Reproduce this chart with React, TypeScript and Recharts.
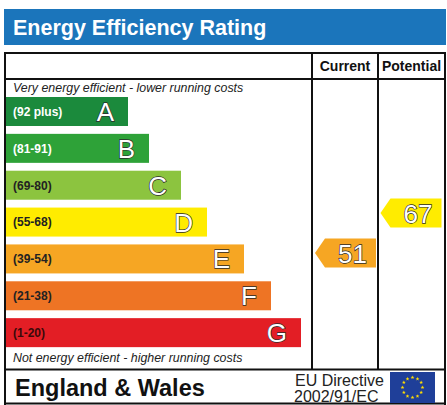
import React from 'react';
import { ComposedChart, Bar, Scatter, XAxis, YAxis, Cell } from 'recharts';

// ---- data ----
const bands = ['A', 'B', 'C', 'D', 'E', 'F', 'G'];
const bandRanges = ['(92 plus)', '(81-91)', '(69-80)', '(55-68)', '(39-54)', '(21-38)', '(1-20)'];
const bandMinimums = [92, 81, 69, 55, 39, 21, 1];
const bandBarLengths = [122, 143, 175, 201, 238, 265, 295];
const ratingColumns = ['Current', 'Potential'];
const ratingValues = [51, 67];

// ---- styles / layout ----
const W = 447;
const H = 405;
const FONT = '"Liberation Sans", Arial, sans-serif';
const BAND_COLORS: Record<string, string> = {
  A: '#1b8a3c',
  B: '#2ea238',
  C: '#8cc43f',
  D: '#ffec00',
  E: '#f6a623',
  F: '#ee7424',
  G: '#e31e25',
};
const RANGE_TEXT: Record<string, string> = {
  A: '#ffffff', B: '#ffffff', C: '#222', D: '#222', E: '#222', F: '#222', G: '#3a0a0a',
};
const COLUMN_X: Record<string, number> = { Current: 339.5, Potential: 405 };
const SCALE_MAX = 440;
const RATING_DOMAIN: [number, number] = [11.8, 115];

const bandOf = (rating: number) => {
  const i = bandMinimums.findIndex((m) => rating >= m);
  return bands[i < 0 ? bands.length - 1 : i];
};

const bandData = bands.map((b, i) => ({ band: b, range: bandRanges[i], length: bandBarLengths[i] }));
const ratingData = ratingColumns.map((c, i) => ({
  column: c,
  rating: ratingValues[i],
  band: bandOf(ratingValues[i]),
  col: COLUMN_X[c],
}));

const BandBar = (props: any) => {
  const { x, y, width, height, payload } = props;
  const cy = y + height / 2;
  return (
    <g>
      <rect x={x} y={y} width={width} height={height} fill={BAND_COLORS[payload.band]} />
      <text x={x + 7} y={cy + 4.3} fontFamily={FONT} fontSize={12} fontWeight="bold" fill={RANGE_TEXT[payload.band]}>
        {payload.range}
      </text>
      <text
        x={x + width - 14}
        y={cy + 9.5}
        textAnchor="end"
        fontFamily={FONT}
        fontSize={26}
        fill="#ffffff"
        stroke="#2a2a2a"
        strokeWidth={1.3}
        paintOrder="stroke"
      >
        {payload.band}
      </text>
    </g>
  );
};

const RatingArrow = (props: any) => {
  const { cx, cy, payload } = props;
  if (cx == null || cy == null) return null;
  const w = 61;
  const h = 29;
  const tip = 10;
  const x0 = cx - w / 2;
  const x1 = cx + w / 2;
  const pts = `${x0},${cy} ${x0 + tip},${cy - h / 2} ${x1},${cy - h / 2} ${x1},${cy + h / 2} ${x0 + tip},${cy + h / 2}`;
  return (
    <g>
      <polygon points={pts} fill={BAND_COLORS[payload.band]} />
      <text
        x={x1 - 9}
        y={cy + 9.5}
        textAnchor="end"
        fontFamily={FONT}
        fontSize={26}
        fill="#ffffff"
        stroke="#2a2a2a"
        strokeWidth={1.3}
        paintOrder="stroke"
      >
        {payload.rating}
      </text>
    </g>
  );
};

const starPoints = (cx: number, cy: number, r: number) => {
  const pts: string[] = [];
  for (let k = 0; k < 10; k++) {
    const rr = k % 2 === 0 ? r : r * 0.42;
    const a = -Math.PI / 2 + (k * Math.PI) / 5;
    pts.push(`${cx + rr * Math.cos(a)},${cy + rr * Math.sin(a)}`);
  }
  return pts.join(' ');
};

const Frame = () => {
  const fx = 412.5;
  const fy = 387.5;
  const stars = Array.from({ length: 12 }, (_, i) => {
    const a = (i * Math.PI) / 6;
    return [fx + 10 * Math.sin(a), fy - 10 * Math.cos(a)];
  });
  return (
    <svg width={W} height={H} style={{ position: 'absolute', left: 0, top: 0 }}>
      <rect x={4} y={9} width={442} height={36} fill="#1b75bb" />
      <text x={13} y={34.5} fontFamily={FONT} fontSize={21.5} fontWeight="bold" fill="#ffffff">
        Energy Efficiency Rating
      </text>
      <g stroke="#111" strokeWidth={2} fill="none">
        <line x1={5} y1={52} x2={5} y2={405} />
        <line x1={445} y1={52} x2={445} y2={405} />
        <line x1={4} y1={53} x2={446} y2={53} />
        <line x1={4} y1={79} x2={446} y2={79} />
        <line x1={4} y1={369.5} x2={446} y2={369.5} />
        <line x1={4} y1={403.5} x2={446} y2={403.5} />
        <line x1={312} y1={53} x2={312} y2={369.5} />
        <line x1={378} y1={53} x2={378} y2={369.5} />
      </g>
      <text x={345} y={71} textAnchor="middle" fontFamily={FONT} fontSize={14} fontWeight="bold" fill="#111">
        Current
      </text>
      <text x={411.5} y={71} textAnchor="middle" fontFamily={FONT} fontSize={14} fontWeight="bold" fill="#111">
        Potential
      </text>
      <text x={13} y={92} fontFamily={FONT} fontSize={12.4} fontStyle="italic" fill="#222">
        Very energy efficient - lower running costs
      </text>
      <text x={13} y={362} fontFamily={FONT} fontSize={12.4} fontStyle="italic" fill="#222">
        Not energy efficient - higher running costs
      </text>
      <text x={15} y={395.5} fontFamily={FONT} fontSize={23.5} fontWeight="bold" fill="#111">
        England &amp; Wales
      </text>
      <text x={295} y={386} fontFamily={FONT} fontSize={16} fill="#222">
        EU Directive
      </text>
      <text x={294} y={402} fontFamily={FONT} fontSize={16} fill="#222">
        2002/91/EC
      </text>
      <rect x={390} y={372} width={45} height={31} fill="#1f3f99" />
      {stars.map(([sx, sy], i) => (
        <polygon key={i} points={starPoints(sx, sy, 2)} fill="#ffdd00" />
      ))}
    </svg>
  );
};

export default function App() {
  return (
    <div style={{ position: 'relative', width: W, height: H, background: '#ffffff', overflow: 'hidden' }}>
      <style>{`body{margin:0;background:#fff}`}</style>
      <Frame />
      <div style={{ position: 'absolute', left: 0, top: 0 }}>
        <ComposedChart
          width={W}
          height={H}
          layout="vertical"
          data={bandData}
          margin={{ top: 93, bottom: 54, left: 6, right: 1 }}
        >
          <XAxis xAxisId="len" type="number" domain={[0, SCALE_MAX]} hide allowDataOverflow />
          <XAxis xAxisId="col" type="number" dataKey="col" domain={[0, SCALE_MAX]} hide allowDataOverflow />
          <YAxis yAxisId="band" type="category" dataKey="band" hide />
          <YAxis
            yAxisId="rating"
            type="number"
            dataKey="rating"
            domain={RATING_DOMAIN}
            reversed
            hide
            allowDataOverflow
          />
          <Bar
            xAxisId="len"
            yAxisId="band"
            dataKey="length"
            barSize={29}
            isAnimationActive={false}
            shape={(p: any) => <BandBar {...p} />}
          >
            {bandData.map((d) => (
              <Cell key={d.band} fill={BAND_COLORS[d.band]} />
            ))}
          </Bar>
          <Scatter
            xAxisId="col"
            yAxisId="rating"
            data={ratingData}
            dataKey="rating"
            isAnimationActive={false}
            shape={(p: any) => <RatingArrow {...p} />}
          />
        </ComposedChart>
      </div>
    </div>
  );
}
